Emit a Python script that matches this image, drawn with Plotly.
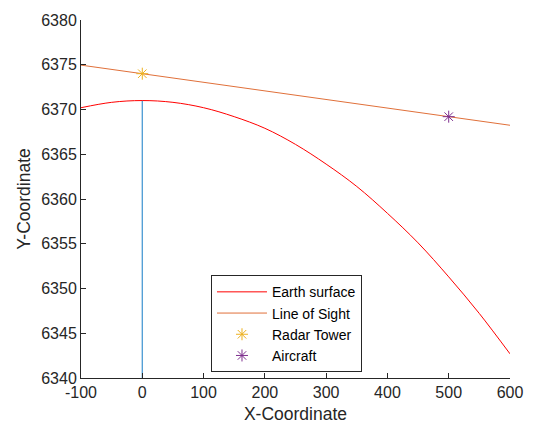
import plotly.graph_objects as go

# Earth surface
earth_x = [-100, -50, 0, 50, 100, 150, 200, 250, 300, 350, 400, 450, 500, 550, 600]
earth_y = [6370.2, 6370.8, 6371.0, 6370.8, 6370.2, 6369.2, 6367.9, 6366.1, 6363.9,
           6361.4, 6358.4, 6355.1, 6351.3, 6347.2, 6342.7]
# Line of sight
los_x = [-100, 600]
los_y = [6374.96, 6368.24]
# Tower vertical line
tower_x = [0, 0]
tower_y = [6340, 6371.0]
# Points
radar_x, radar_y = [0], [6374.0]
aircraft_x, aircraft_y = [500], [6369.2]

x_ticks = [-100, 0, 100, 200, 300, 400, 500, 600]
x_tick_labels = ["-100", "0", "100", "200", "300", "400", "500", "600"]
y_ticks = [6340, 6345, 6350, 6355, 6360, 6365, 6370, 6375, 6380]
y_tick_labels = [str(v) for v in y_ticks]

FONT = "Liberation Sans, Arial"

fig = go.Figure()
fig.add_trace(go.Scatter(x=tower_x, y=tower_y, mode="lines", showlegend=False,
                         line=dict(color="#4A9AD4", width=1.3)))
fig.add_trace(go.Scatter(x=earth_x, y=earth_y, mode="lines", name="Earth surface",
                         line=dict(color="#FF0000", width=1, shape="spline")))
fig.add_trace(go.Scatter(x=los_x, y=los_y, mode="lines", name="Line of Sight",
                         line=dict(color="#E0703A", width=1)))
fig.add_trace(go.Scatter(x=radar_x, y=radar_y, mode="markers", name="Radar Tower",
                         marker=dict(symbol="asterisk-open", size=10, color="#EDB120",
                                     line=dict(color="#EDB120", width=1))))
fig.add_trace(go.Scatter(x=aircraft_x, y=aircraft_y, mode="markers", name="Aircraft",
                         marker=dict(symbol="asterisk-open", size=10, color="#7E2F8E",
                                     line=dict(color="#7E2F8E", width=1))))

axis_common = dict(showline=True, linecolor="#262626", linewidth=1, ticks="inside",
                   ticklen=5, tickcolor="#262626", showgrid=False, zeroline=False,
                   tickfont=dict(family=FONT, size=16, color="#262626"),
                   mirror=False)
fig.update_xaxes(range=[-100, 600], tickvals=x_ticks, ticktext=x_tick_labels,
                 title=dict(text="X-Coordinate", font=dict(family=FONT, size=17.5, color="#262626"), standoff=7),
                 **axis_common)
fig.update_yaxes(range=[6340, 6380], tickvals=y_ticks, ticktext=y_tick_labels,
                 title=dict(text="Y-Coordinate", font=dict(family=FONT, size=17.5, color="#262626"), standoff=6),
                 **axis_common)

fig.update_layout(
    width=535, height=432,
    margin=dict(l=81, r=21, t=15, b=54),
    plot_bgcolor="white", paper_bgcolor="white",
    font=dict(family=FONT, color="#262626"),
    legend=dict(x=0.303, y=0.287, xanchor="left", yanchor="top",
                bordercolor="#262626", borderwidth=1, bgcolor="white",
                font=dict(family=FONT, size=14, color="#000000"), tracegroupgap=0,
                itemwidth=50),
)

fig.write_html("out.html")
